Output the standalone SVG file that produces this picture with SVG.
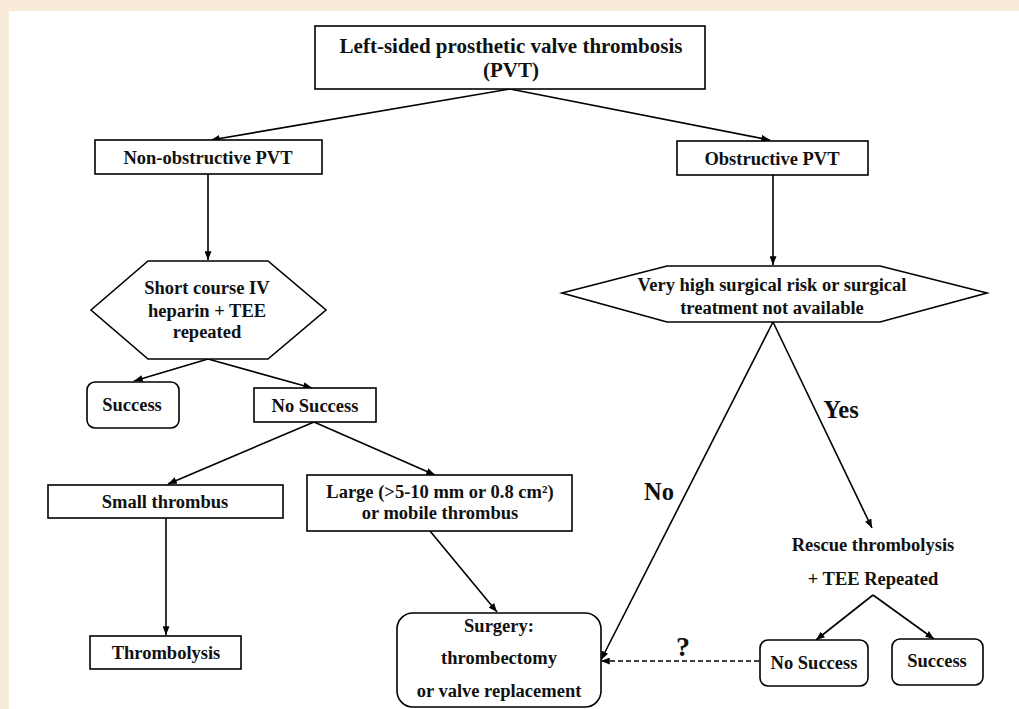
<svg xmlns="http://www.w3.org/2000/svg" width="1019" height="709" viewBox="0 0 1019 709">
<defs>
<marker id="ah" viewBox="0 0 10 8" refX="10" refY="4" markerWidth="9" markerHeight="7" markerUnits="userSpaceOnUse" orient="auto">
<path d="M0,0 L10,4 L0,8 Z" fill="#000"/>
</marker>
<style>
.box{fill:#fff;stroke:#000;stroke-width:1.6}
.t{font-family:"Liberation Serif","Times New Roman",serif;font-weight:bold;fill:#111;text-anchor:middle;font-size:18.5px}
.big{font-size:21px}
.lbl{font-size:24.5px}
.q{font-size:28px}
.c{fill:none;stroke:#000;stroke-width:1.6}
.d{fill:none;stroke:#000;stroke-width:1.4;stroke-dasharray:5,3}
</style>
</defs>
<rect x="0" y="0" width="1019" height="709" fill="#F9EBDA"/>
<rect x="9" y="11" width="1010" height="698" fill="#fff"/>

<g id="connectors">
<line class="c" x1="510" y1="89" x2="211" y2="140" marker-end="url(#ah)"/>
<line class="c" x1="510" y1="89" x2="770" y2="140" marker-end="url(#ah)"/>
<line class="c" x1="208" y1="174" x2="208" y2="260" marker-end="url(#ah)"/>
<line class="c" x1="773" y1="175" x2="773" y2="265" marker-end="url(#ah)"/>
<line class="c" x1="208" y1="359" x2="134" y2="381" marker-end="url(#ah)"/>
<line class="c" x1="208" y1="359" x2="312" y2="388" marker-end="url(#ah)"/>
<line class="c" x1="314" y1="422" x2="168" y2="484" marker-end="url(#ah)"/>
<line class="c" x1="314" y1="422" x2="435" y2="475" marker-end="url(#ah)"/>
<line class="c" x1="166" y1="518" x2="166" y2="635" marker-end="url(#ah)"/>
<line class="c" x1="430" y1="531" x2="497" y2="612" marker-end="url(#ah)"/>
<line class="c" x1="773" y1="322" x2="601" y2="660" marker-end="url(#ah)"/>
<line class="c" x1="773" y1="322" x2="872" y2="528" marker-end="url(#ah)"/>
<line class="c" x1="873" y1="595" x2="816" y2="640" marker-end="url(#ah)"/>
<line class="c" x1="873" y1="595" x2="934" y2="639" marker-end="url(#ah)"/>
<line class="d" x1="759" y1="661" x2="601" y2="661" marker-end="url(#ah)"/>
<text class="t lbl" x="659" y="500">No</text>
<text class="t lbl" x="841" y="418">Yes</text>
<text class="t q" x="683" y="656">?</text>
</g>

<g id="n-top">
<rect class="box" x="315" y="26" width="390" height="63"/>
<text class="t big" x="511" y="53">Left-sided prosthetic valve thrombosis</text>
<text class="t big" x="511" y="77">(PVT)</text>
</g>
<g id="n-nonobs">
<rect class="box" x="95" y="140" width="227" height="34"/>
<text class="t" x="208" y="164">Non-obstructive PVT</text>
</g>
<g id="n-obs">
<rect class="box" x="677" y="141" width="191" height="34"/>
<text class="t" x="772" y="165">Obstructive PVT</text>
</g>
<g id="n-heparin">
<polygon class="box" points="91,310 148,261 268,261 326,310 268,359 148,359"/>
<text class="t" x="207" y="294">Short course IV</text>
<text class="t" x="207" y="317">heparin + TEE</text>
<text class="t" x="207" y="338">repeated</text>
</g>
<g id="n-risk">
<polygon class="box" points="562,293 667,266 880,266 987,293 880,322 667,322"/>
<text class="t" x="772" y="291">Very high surgical risk or surgical</text>
<text class="t" x="772" y="314">treatment not available</text>
</g>
<g id="n-success1">
<rect class="box" x="87" y="382" width="92" height="46" rx="8"/>
<text class="t" x="132" y="411">Success</text>
</g>
<g id="n-nosuccess1">
<rect class="box" x="254" y="388" width="122" height="34"/>
<text class="t" x="315" y="412">No Success</text>
</g>
<g id="n-small">
<rect class="box" x="48" y="485" width="235" height="33"/>
<text class="t" x="165" y="508">Small thrombus</text>
</g>
<g id="n-large">
<rect class="box" x="307" y="475" width="265" height="56"/>
<text class="t" x="440" y="498">Large (&gt;5-10 mm or 0.8 cm²)</text>
<text class="t" x="440" y="519">or mobile thrombus</text>
</g>
<g id="n-thrombolysis">
<rect class="box" x="90" y="636" width="151" height="33"/>
<text class="t" x="166" y="659">Thrombolysis</text>
</g>
<g id="n-surgery">
<rect class="box" x="397" y="613" width="204" height="94" rx="16"/>
<text class="t" x="499" y="632">Surgery:</text>
<text class="t" x="499" y="664">thrombectomy</text>
<text class="t" x="499" y="697">or valve replacement</text>
</g>
<g id="n-rescue">
<text class="t" x="873" y="551">Rescue thrombolysis</text>
<text class="t" x="873" y="585">+ TEE Repeated</text>
</g>
<g id="n-nosuccess2">
<rect class="box" x="760" y="640" width="108" height="46" rx="8"/>
<text class="t" x="814" y="669">No Success</text>
</g>
<g id="n-success2">
<rect class="box" x="892" y="639" width="91" height="46" rx="8"/>
<text class="t" x="937" y="667">Success</text>
</g>
</svg>
